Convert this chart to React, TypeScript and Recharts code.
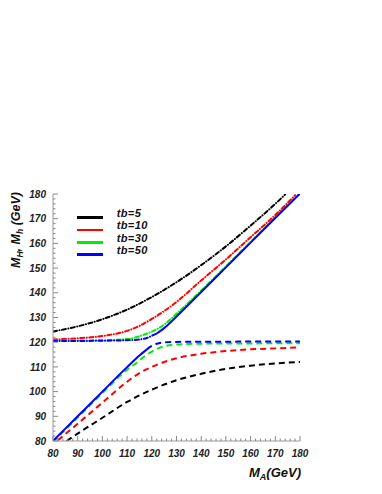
import { LineChart, Line, XAxis, YAxis, Legend } from 'recharts';

// M_A (GeV) and the heavy / light CP-even masses
const MA_TB5_H = [80, 90, 100, 110, 120, 130, 140, 150, 160, 170, 174];
const MH_TB5 = [124.3, 126.4, 129.3, 133.2, 138.3, 144.3, 151.2, 158.8, 167.2, 176, 179.8];
const MA_TB5_L = [85.5, 90, 100, 110, 120, 130, 140, 150, 160, 170, 180];
const ML_TB5 = [80, 83, 89.4, 95.8, 100.8, 104.6, 107.2, 109.2, 110.5, 111.4, 112];

const MA_TB10_H = [80, 90, 100, 110, 115, 120, 125, 130, 140, 150, 160, 170, 178];
const MH_TB10 = [121.1, 121.6, 122.5, 124.6, 126.6, 129.4, 132.6, 136.3, 145, 153.5, 162.5, 171.5, 179.5];
const MA_TB10_L = [82, 90, 100, 110, 115, 120, 125, 130, 140, 150, 160, 170, 180];
const ML_TB10 = [80.3, 87, 95.5, 104, 107.5, 110, 112, 113.5, 115.3, 116.4, 117.1, 117.5, 117.9];

const MA_TB30 = [80, 90, 100, 110, 114, 117, 120, 123, 126, 130, 140, 150, 160, 170, 180];
const MH_TB30 = [120.6, 120.7, 120.8, 121.3, 122.1, 123.1, 124.3, 125.8, 127.9, 131.5, 140.9, 150.7, 160.6, 170.5, 180.4];
const ML_TB30 = [79.6, 89.5, 99.4, 108.9, 111.8, 114.2, 116.2, 117.7, 118.6, 119.1, 119.4, 119.5, 119.5, 119.6, 119.6];

const MA_TB50 = [80, 90, 100, 110, 115, 118, 120, 122, 125, 130, 140, 150, 160, 170, 180];
const MH_TB50 = [120.5, 120.5, 120.6, 120.8, 121.1, 121.7, 122.6, 123.5, 125.7, 130.4, 140.3, 150.3, 160.3, 170.3, 180.2];
const ML_TB50 = [80, 90, 100, 109.9, 114.6, 117.1, 118.5, 119.4, 119.9, 120.1, 120.2, 120.2, 120.3, 120.3, 120.3];

const MINOR_TICKS = Array.from({ length: 51 }, (_, i) => 80 + i * 2);

const zip = (xs: number[], ys: number[]) => xs.map((ma, i) => ({ ma, m: ys[i] }));

const SERIES = [
  { name: 'tb=5', color: '#000000', heavy: zip(MA_TB5_H, MH_TB5), light: zip(MA_TB5_L, ML_TB5) },
  { name: 'tb=10', color: '#ff0000', heavy: zip(MA_TB10_H, MH_TB10), light: zip(MA_TB10_L, ML_TB10) },
  { name: 'tb=30', color: '#00ee00', heavy: zip(MA_TB30, MH_TB30), light: zip(MA_TB30, ML_TB30) },
  // tb=50: the branches lying on the diagonal are drawn solid
  { name: 'tb=50', color: '#0000ff', heavy: zip(MA_TB50, MH_TB50), light: zip(MA_TB50, ML_TB50), heavySolidFrom: 7, lightSolidTo: 5 },
];

const FONT = '"Liberation Sans", Arial, Helvetica, sans-serif';
const DOTDASH = '4 2.5 0.1 2.5';
const DASH = '6 4';

const XTick = ({ x, y, payload }: any) => {
  const major = payload.value % 10 === 0;
  return (
    <g>
      <line x1={x} x2={x} y1={y} y2={y - (major ? 5 : 2.5)} stroke='#888' />
      {major && (
        <text x={x} y={y + 16} textAnchor='middle' fontFamily={FONT} fontSize={10} fontWeight='bold' fontStyle='italic' fill='#222'>
          {payload.value}
        </text>
      )}
    </g>
  );
};

const YTick = ({ x, y, payload }: any) => {
  const major = payload.value % 10 === 0;
  return (
    <g>
      <line x1={x} x2={x + (major ? 5 : 2.5)} y1={y} y2={y} stroke='#888' />
      {major && (
        <text x={x - 7} y={y + 3.6} textAnchor='end' fontFamily={FONT} fontSize={10} fontWeight='bold' fontStyle='italic' fill='#222'>
          {payload.value}
        </text>
      )}
    </g>
  );
};

// legend rows come straight from SERIES so the split blue pieces don't show up
const LegendBox = () => (
  <div style={{ fontFamily: FONT, fontWeight: 'bold', fontStyle: 'italic', fontSize: 11, color: '#111' }}>
    {SERIES.map((s) => (
      <div key={s.name} style={{ position: 'relative', height: 12.3, lineHeight: '12.3px', paddingLeft: 39.7, whiteSpace: 'nowrap', letterSpacing: 0.4 }}>
        <span style={{ position: 'absolute', left: 0, top: 9.3, width: 26, height: 2.5, background: s.color }} />
        {s.name}
      </div>
    ))}
  </div>
);

export default function App() {
  const lines: any[] = [];
  SERIES.forEach((s) => {
    const hCut = s.heavySolidFrom ?? s.heavy.length;
    lines.push(
      <Line key={s.name + 'h'} data={s.heavy.slice(0, hCut + 1)} dataKey='m' name={s.name} type='monotone'
        stroke={s.color} strokeWidth={2} strokeDasharray={DOTDASH} strokeLinecap='round'
        dot={false} activeDot={false} isAnimationActive={false} />
    );
    if (hCut < s.heavy.length) {
      lines.push(
        <Line key={s.name + 'hs'} data={s.heavy.slice(hCut)} dataKey='m' type='monotone' legendType='none'
          stroke={s.color} strokeWidth={2} dot={false} activeDot={false} isAnimationActive={false} />
      );
    }
    const lCut = s.lightSolidTo ?? 0;
    if (lCut > 0) {
      lines.push(
        <Line key={s.name + 'ls'} data={s.light.slice(0, lCut + 1)} dataKey='m' type='monotone' legendType='none'
          stroke={s.color} strokeWidth={2} dot={false} activeDot={false} isAnimationActive={false} />
      );
    }
    lines.push(
      <Line key={s.name + 'l'} data={s.light.slice(lCut)} dataKey='m' type='monotone' legendType='none'
        stroke={s.color} strokeWidth={2} strokeDasharray={DASH}
        dot={false} activeDot={false} isAnimationActive={false} />
    );
  });

  return (
    <LineChart width={374} height={486} margin={{ top: 186, right: 82, bottom: 23, left: 0 }}>
      <XAxis dataKey='ma' type='number' domain={[80, 180]} ticks={MINOR_TICKS} interval={0}
        height={30} tickSize={0} tickMargin={0} tickLine={false} tick={<XTick />}
        axisLine={{ stroke: '#999' }} allowDataOverflow />
      <XAxis xAxisId='top' orientation='top' type='number' domain={[80, 180]} height={0}
        tick={false} tickLine={false} axisLine={{ stroke: '#ccc' }} />
      <YAxis type='number' domain={[80, 180]} ticks={MINOR_TICKS} interval={0} width={45}
        tickSize={0} tickMargin={0} tickLine={false} tick={<YTick />}
        axisLine={{ stroke: '#999' }} allowDataOverflow />
      <YAxis yAxisId='right' orientation='right' type='number' domain={[80, 180]} width={0}
        tick={false} tickLine={false} axisLine={{ stroke: '#ccc', strokeWidth: 2 }} />
      <Legend verticalAlign='middle' align='center' layout='horizontal' content={() => <LegendBox />}
        wrapperStyle={{ left: 69, top: 199.2, width: 110, height: 50 }} />
      {lines}
      <text x={293} y={468.7} textAnchor='end' fontFamily={FONT} fontSize={13} fontWeight='bold' fontStyle='italic' fill='#111'>
        M<tspan fontSize={9} dy={3}>A</tspan>
        <tspan dy={-3}>(GeV)</tspan>
      </text>
      <text transform='rotate(-90)' x={-222} y={12} textAnchor='middle' fontFamily={FONT} fontSize={12.5} fontWeight='bold' fontStyle='italic' fill='#111'>
        M<tspan fontSize={8.5} dy={3}>H</tspan>
        <tspan dy={-3}>, M</tspan>
        <tspan fontSize={8.5} dy={3}>h</tspan>
        <tspan dy={-3}> (GeV)</tspan>
      </text>
    </LineChart>
  );
}
